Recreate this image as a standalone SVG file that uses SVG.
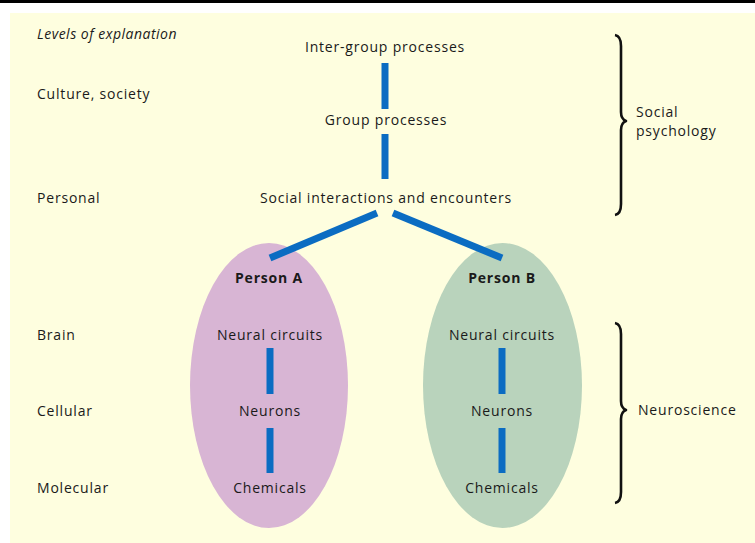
<svg xmlns="http://www.w3.org/2000/svg" width="755" height="543" viewBox="0 0 755 543">
<style>
text{font-family:"Open Sans","Liberation Sans",sans-serif;font-size:14px;fill:#1a1a1a;letter-spacing:0.8px}
.c{text-anchor:middle}
.b{font-weight:bold}
.i{font-style:italic;letter-spacing:0.5px}
.link{stroke:#0b6cc2;stroke-width:7;stroke-linecap:butt;fill:none}
.brace{stroke:#111;stroke-width:2.6;fill:none;stroke-linejoin:round}
</style>
<rect x="0" y="0" width="755" height="543" fill="#ffffff"/>
<rect x="10" y="13" width="745" height="530" fill="#fefedf"/>
<line x1="0" y1="1.5" x2="755" y2="1.5" stroke="#000" stroke-width="3"/>

<g id="levels">
<text class="i" x="37" y="39">Levels of explanation</text>
<text x="37" y="99">Culture, society</text>
<text x="37" y="203">Personal</text>
<text x="37" y="340">Brain</text>
<text x="37" y="416">Cellular</text>
<text x="37" y="493">Molecular</text>
</g>

<g id="personA">
<ellipse cx="269" cy="385.5" rx="79" ry="142.5" fill="#d8b5d4"/>
<text class="c b" x="269" y="283">Person A</text>
</g>
<g id="personB">
<ellipse cx="502.5" cy="385.5" rx="79.5" ry="142.5" fill="#b9d3bc"/>
<text class="c b" x="502" y="283">Person B</text>
</g>

<g id="connectors">
<line class="link" x1="385" y1="63" x2="385" y2="109"/>
<line class="link" x1="385" y1="134" x2="385" y2="179"/>
<line class="link" x1="377" y1="213" x2="270" y2="258"/>
<line class="link" x1="393" y1="213" x2="502" y2="258"/>
<line class="link" x1="270" y1="348" x2="270" y2="394"/>
<line class="link" x1="270" y1="428" x2="270" y2="473"/>
<line class="link" x1="502" y1="348" x2="502" y2="394"/>
<line class="link" x1="502" y1="428" x2="502" y2="473"/>
</g>

<g id="intergroup"><text class="c" x="385" y="52">Inter-group processes</text></g>
<g id="group"><text class="c" x="386" y="125">Group processes</text></g>
<g id="social"><text class="c" x="386" y="203">Social interactions and encounters</text></g>

<g id="neuralA"><text class="c" x="270" y="340">Neural circuits</text></g>
<g id="neuronsA"><text class="c" x="270" y="416">Neurons</text></g>
<g id="chemicalsA"><text class="c" x="270" y="493">Chemicals</text></g>
<g id="neuralB"><text class="c" x="502" y="340">Neural circuits</text></g>
<g id="neuronsB"><text class="c" x="502" y="416">Neurons</text></g>
<g id="chemicalsB"><text class="c" x="502" y="493">Chemicals</text></g>

<g id="socialPsychology">
<path class="brace" d="M615,35 Q621,36 621,46 L621,112 Q621,119 626,121 Q621,123 621,130 L621,204 Q621,214 615,215"/>
<text x="636" y="117">Social</text>
<text x="636" y="136">psychology</text>
</g>
<g id="neuroscience">
<path class="brace" d="M615,323 Q621,324 621,334 L621,401 Q621,408 626,410 Q621,412 621,419 L621,492 Q621,502 615,503"/>
<text x="638" y="415">Neuroscience</text>
</g>
</svg>
